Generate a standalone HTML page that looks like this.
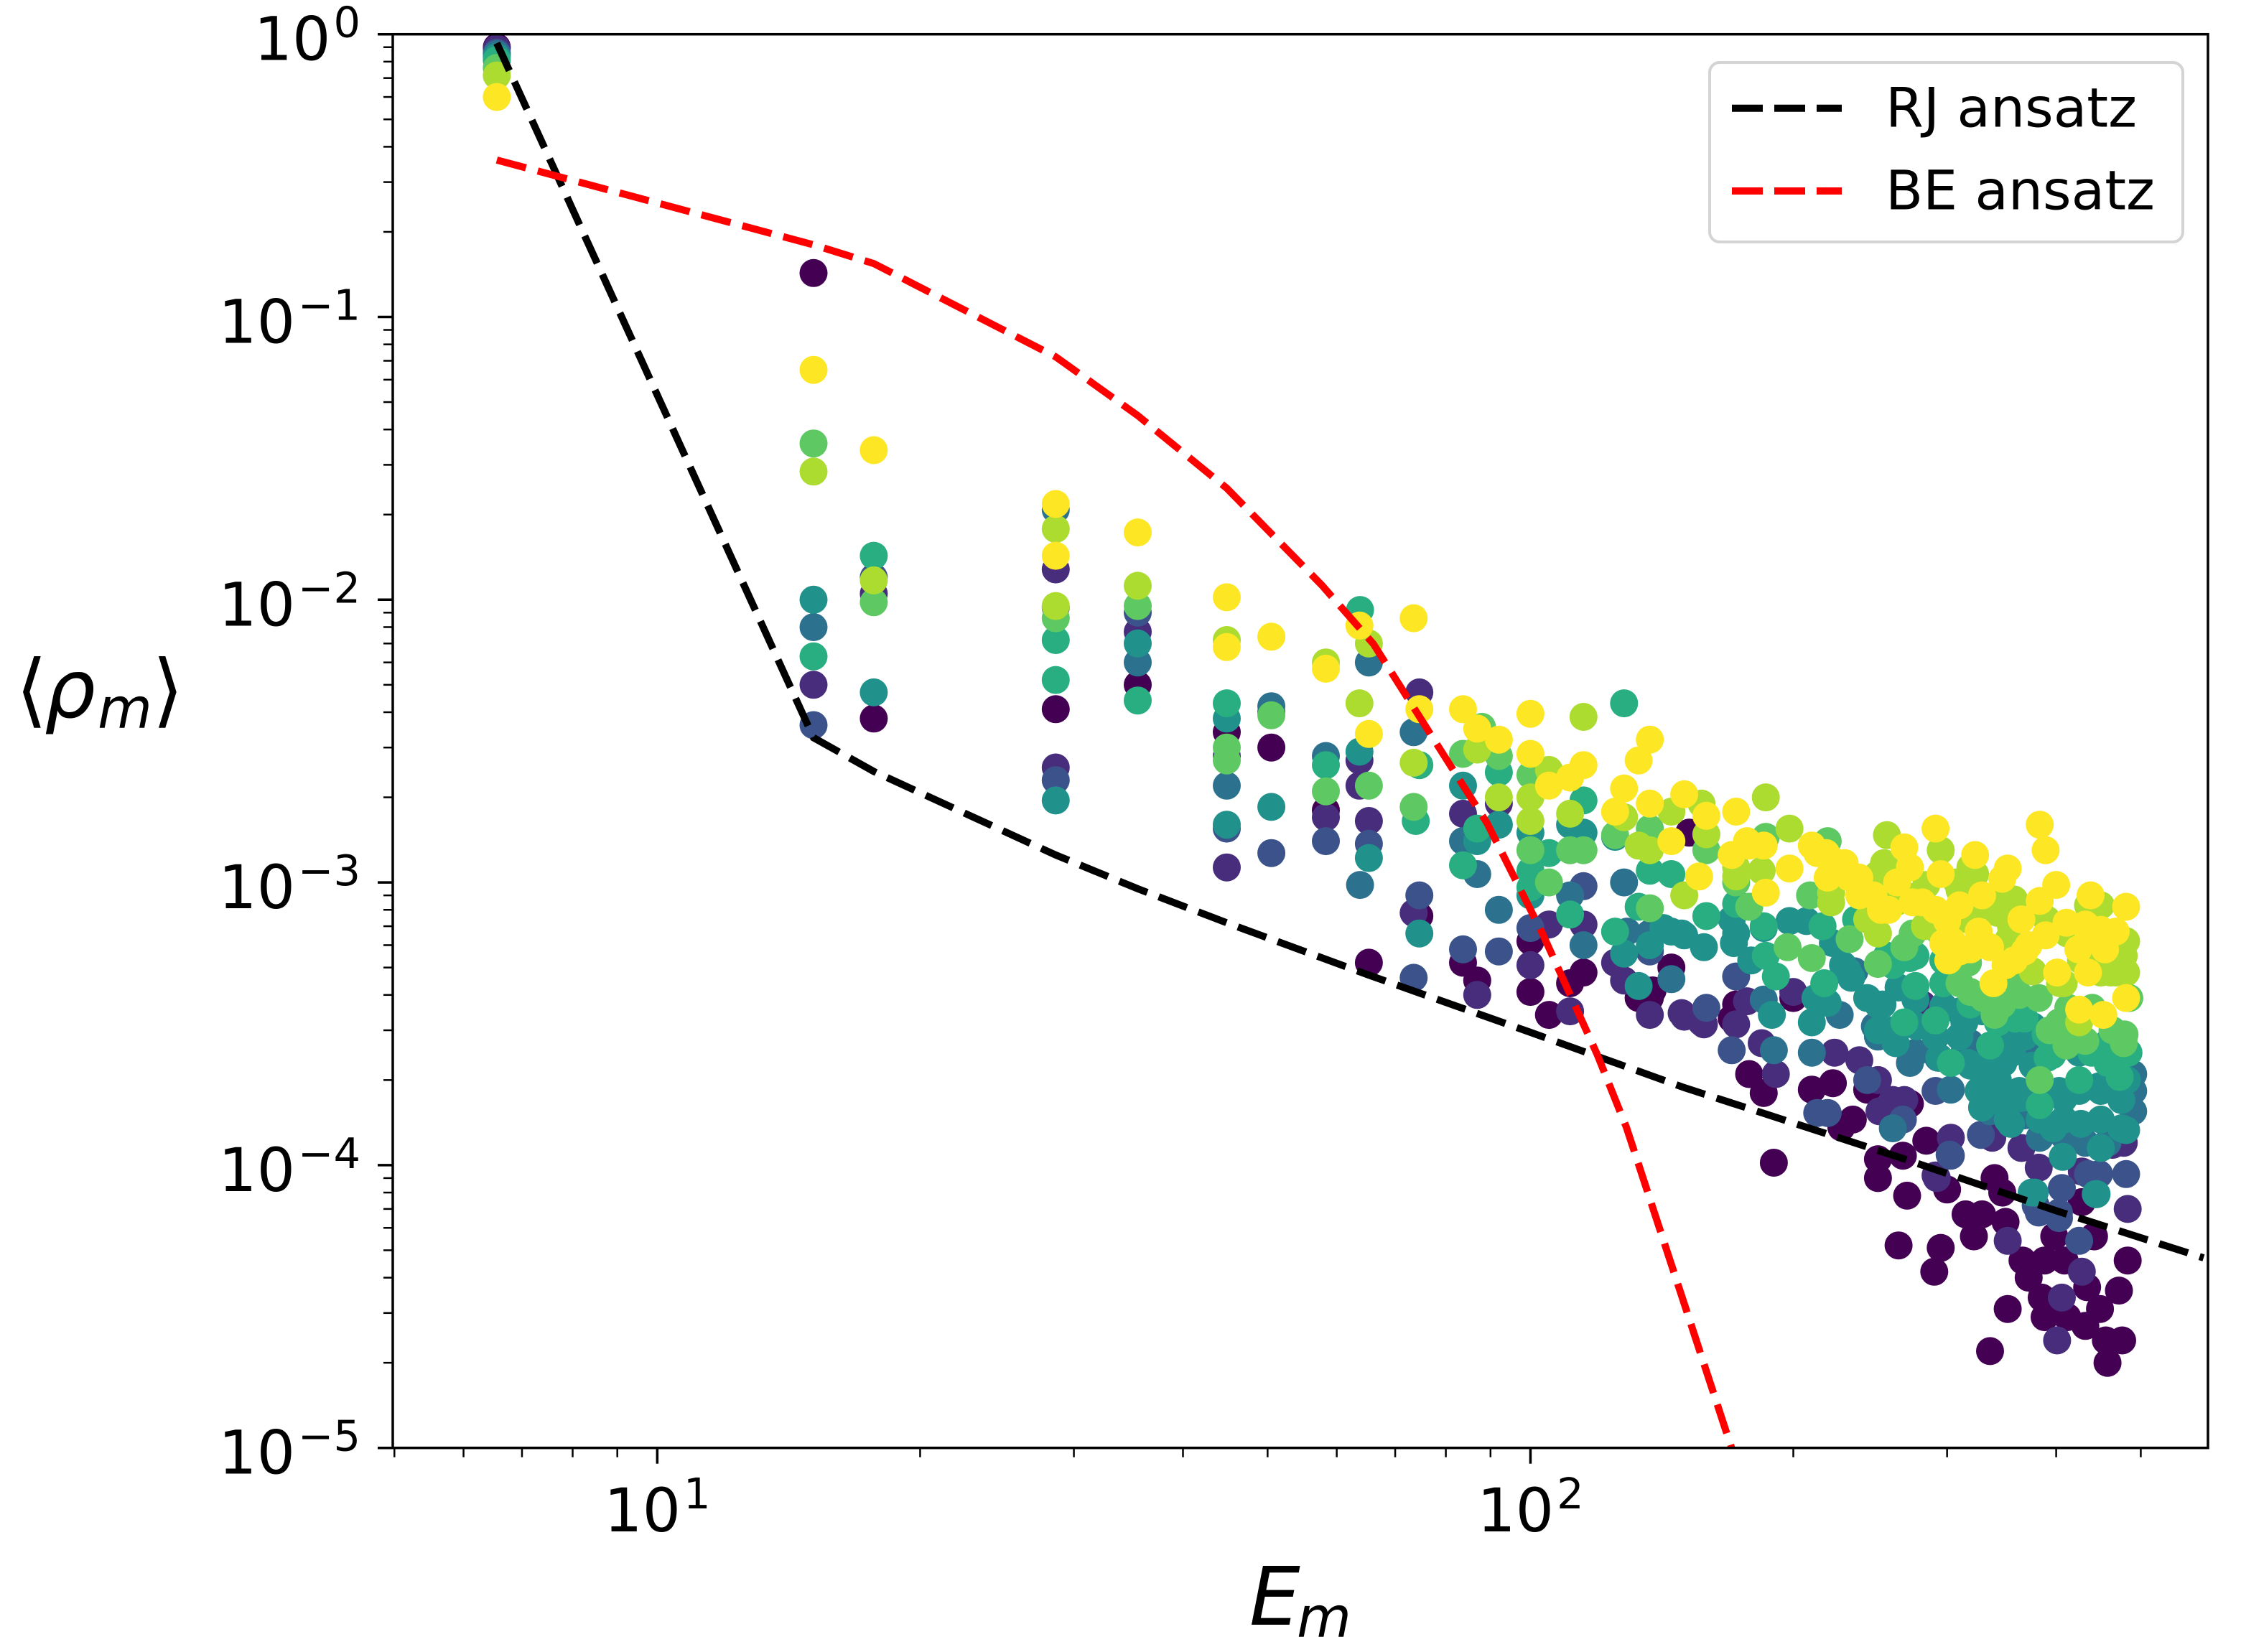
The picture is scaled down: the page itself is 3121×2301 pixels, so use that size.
<!DOCTYPE html>
<html lang="en">
<head>
<meta charset="utf-8">
<title>Mode occupation scatter chart</title>
<style>
html,body{margin:0;padding:0;background:#fff;}
svg{display:block;}
text{font-family:"DejaVu Sans","Liberation Sans",sans-serif;fill:#000;}
</style>
</head>
<body>
<svg id="chart" xmlns="http://www.w3.org/2000/svg" width="3121" height="2301" viewBox="0 0 3121 2301">
<defs><clipPath id="plot-clip"><rect x="547" y="47.7" width="2528" height="1969"/></clipPath></defs>
<rect x="0" y="0" width="3121" height="2301" fill="#fff"/>
<g id="points" clip-path="url(#plot-clip)"></g>
<g id="lines" clip-path="url(#plot-clip)"></g>
<g id="ticks"></g>
<rect x="547" y="47.7" width="2528" height="1969" fill="none" stroke="#000" stroke-width="3.5"/>
<g id="tick-labels"></g>
<text font-size="112"><tspan x="22" y="999">⟨</tspan><tspan x="62" y="999" font-style="italic">ρ</tspan><tspan x="136" y="1014" font-size="78" font-style="italic">m</tspan><tspan x="212" y="999">⟩</tspan></text>
<text font-size="112"><tspan x="1740" y="2263" font-style="italic">E</tspan><tspan x="1806" y="2280" font-size="78" font-style="italic">m</tspan></text>
<g>
<rect x="2381" y="87" width="659" height="250" rx="14" fill="#fff" fill-opacity="0.9" stroke="#d4d4d4" stroke-width="4"/>
<line x1="2412" y1="150.7" x2="2565" y2="150.7" stroke="#000" stroke-width="10" stroke-dasharray="43 16"/>
<text x="2626" y="176.7" font-size="76">RJ ansatz</text>
<line x1="2412" y1="266" x2="2565" y2="266" stroke="#f00" stroke-width="10" stroke-dasharray="43 16"/>
<text x="2626" y="291.7" font-size="76">BE ansatz</text>
</g>
</svg>
<script>
// Each entry is [E_m, rho_m].
const level0=[[6.55,.9],[15.1,.143],[17.7,3.8e-3],[28.6,4.1e-3],[35.5,5e-3],[44.9,3.4e-3],[50.5,3e-3],[58.3,1.8e-3],[65.3,5.2e-4],[74.6,7.6e-4],[83.7,5.2e-4],[86.9,4.5e-4],[100,6.2e-4],[100,4.1e-4],[105,3.4e-4],[111,4.4e-4],[115,4.8e-4],[133,3.9e-4],[137,3.9e-4],[138,4.15e-4],[145,5e-4],[152,1.5e-3],[172,3.7e-4],[170,3.3e-4],[200,3.9e-4],[178,2.1e-4],[185,1.8e-4],[190,1.02e-4],[210,1.85e-4],[222,1.95e-4],[234,1.45e-4],[243,1.85e-4],[227,1.36e-4],[272,1.65e-4],[250,1.05e-4],[250,9e-5],[270,7.8e-5],[267,1.08e-4],[284,1.22e-4],[300,8.2e-5],[315,6.7e-5],[329,6.7e-5],[322,5.6e-5],[350,6.3e-5],[340,9e-5],[347,8e-5],[264,5.2e-5],[295,5.1e-5],[290,4.2e-5],[336,2.2e-5],[352,3.1e-5],[366,4.6e-5],[388,4.6e-5],[409,4.6e-5],[398,5.6e-5],[442,5.6e-5],[372,4e-5],[385,3.4e-5],[388,2.9e-5],[412,2.9e-5],[434,3.7e-5],[449,3.1e-5],[432,2.7e-5],[472,3.6e-5],[483,4.6e-5],[456,2.4e-5],[476,2.4e-5],[458,2e-5],[428,7.4e-5]];
const level1=[[6.55,.89],[15.1,5e-3],[17.7,1.05e-2],[28.6,.0128],[28.6,9.4e-3],[28.6,2.55e-3],[35.5,7.7e-3],[44.9,2.8e-3],[44.9,1.13e-3],[50.5,4e-3],[58.3,1.7e-3],[63.7,2.7e-3],[63.7,2.2e-3],[65.3,1.65e-3],[73.5,7.8e-4],[74.6,4.7e-3],[83.7,1.75e-3],[86.9,4e-4],[92,1.9e-3],[100,5.1e-4],[105,7.1e-4],[111,3.5e-4],[115,7.1e-4],[125,5.2e-4],[128,4.5e-4],[137,3.4e-4],[149,3.45e-4],[150,3.35e-4],[157,3.2e-4],[158,3.15e-4],[172,3.15e-4],[177,3.8e-4],[184,2.7e-4],[191,2.1e-4],[223,2.5e-4],[238,2.35e-4],[250,2e-4],[251,1.55e-4],[260,1.7e-4],[268,1.7e-4],[292,9e-5],[303,1.25e-4],[291,9.2e-5],[338,1.25e-4],[365,1.15e-4],[382,9.8e-5],[428,9.5e-5],[464,1.18e-4],[478,1.2e-4],[483,7e-5],[352,5.4e-5],[406,3.4e-5],[428,4.2e-5],[401,2.4e-5],[200,4.1e-4],[281,3.7e-4]];
const level2=[[6.55,.86],[15.1,3.6e-3],[17.7,1.2e-2],[28.6,2.3e-3],[35.5,9e-3],[44.9,1.55e-3],[50.5,1.27e-3],[58.3,1.4e-3],[65.3,1.37e-3],[74.6,9e-4],[73.5,4.6e-4],[83.7,5.8e-4],[92,5.7e-4],[100,6.9e-4],[115,9.7e-4],[137,5.7e-4],[159,3.6e-4],[172,4.65e-4],[170,2.55e-4],[243,2e-4],[291,1.83e-4],[213,1.53e-4],[219,1.53e-4],[267,1.45e-4],[303,1.08e-4],[328,1.28e-4],[406,8.3e-5],[435,9.3e-5],[448,9.3e-5],[481,9.3e-5],[382,6.8e-5],[403,6.8e-5],[425,5.4e-5],[403,6.5e-5],[379,7.2e-5],[302,1.09e-4]];
const level3=[[6.55,.85],[15.1,8e-3],[28.6,.0208],[35.5,6e-3],[44.9,2.2e-3],[50.5,4.2e-3],[58.3,2.8e-3],[63.8,9.8e-4],[65.3,6e-3],[73.5,3.4e-3],[83.7,1.4e-3],[86.9,1.07e-3],[92,8e-4],[111,9e-4],[115,6e-4],[128,1e-3],[129,6.7e-4],[137,6.6e-4],[145,4.55e-4],[185,3.85e-4],[190,2.55e-4],[210,2.5e-4],[226,3.4e-4],[248,3.1e-4],[272,2.3e-4],[303,1.85e-4],[260,1.35e-4],[336,1.55e-4],[383,1.25e-4],[432,1.2e-4],[235,4.85e-4],[319,2.7e-4],[380,2.5e-4],[490,1.55e-4],[490,2.1e-4],[250,2.85e-4],[276,2.5e-4],[293,2.4e-4],[314,2.5e-4],[333,2.05e-4],[368,1.5e-4],[408,1.27e-4],[458,1.2e-4],[490,1.83e-4]];
const level4=[[6.55,.83],[15.1,1e-2],[17.7,4.7e-3],[28.6,1.95e-3],[35.5,7e-3],[44.9,3.8e-3],[44.9,1.6e-3],[50.5,1.85e-3],[63.7,2.9e-3],[65.3,1.22e-3],[74.6,6.6e-4],[83.7,2.2e-3],[86.9,1.4e-3],[92,1.6e-3],[100,9e-4],[100,1.5e-3],[111,1.6e-3],[115,1.5e-3],[125,1.45e-3],[128,5.6e-4],[133,4.3e-4],[137,6e-4],[142,6.9e-4],[145,6.7e-4],[149,6.6e-4],[150,6.5e-4],[158,5.9e-4],[170,7.4e-4],[171,6.1e-4],[172,6.6e-4],[179,5.3e-4],[185,6.9e-4],[198,7.3e-4],[207,7.3e-4],[189,3.4e-4],[210,3.2e-4],[212,3.9e-4],[219,3.75e-4],[222,6.1e-4],[228,5.1e-4],[233,4.6e-4],[231,4.85e-4],[243,3.9e-4],[326,1.83e-4],[355,1.4e-4],[427,1.4e-4],[481,1.33e-4],[407,1.07e-4],[450,1.15e-4],[444,7.9e-5],[378,8e-5],[365,1.73e-4],[475,1.7e-4],[343,2e-4],[297,3.65e-4],[314,3.2e-4],[368,2.85e-4],[375,8e-5],[445,7.9e-5],[408,1.72e-4],[448,1.9e-4],[482,2e-4],[397,1.35e-4],[348,2.3e-4],[294,2.4e-4],[277,3.1e-4],[253,3.7e-4],[262,2.7e-4],[317,2.3e-4],[329,3.5e-4],[250,3.7e-4],[264,4.25e-4],[276,3.85e-4],[250,3e-4],[260,3e-4],[291,2.85e-4],[310,3.5e-4],[310,2.85e-4],[319,2.25e-4],[333,2.25e-4],[350,3e-4],[356,2.5e-4],[376,3.1e-4],[376,2.25e-4],[329,1.6e-4],[343,1.7e-4],[363,1.83e-4],[383,1.45e-4],[403,1.83e-4],[425,1.83e-4],[450,1.83e-4],[408,1.45e-4],[450,1.45e-4],[475,2.05e-4],[425,2.5e-4],[458,2.5e-4],[475,1.35e-4],[352,1.45e-4]];
const level5=[[6.55,.81],[15.1,6.3e-3],[17.7,1.43e-2],[28.6,7.2e-3],[28.6,5.2e-3],[35.5,4.4e-3],[44.9,4.3e-3],[58.3,2.6e-3],[63.8,9.2e-3],[73.9,1.65e-3],[74.6,2.6e-3],[86.9,1.55e-3],[83.7,1.15e-3],[92,2.45e-3],[100,1.1e-3],[100,9.6e-4],[105,1.27e-3],[111,7.7e-4],[115,1.95e-3],[125,6.7e-4],[128,4.3e-3],[133,8.2e-4],[137,1.1e-3],[145,1.07e-3],[159,7.6e-4],[172,8.4e-4],[178,8.2e-4],[185,7e-4],[186,5.5e-4],[191,4.65e-4],[268,3.2e-4],[291,3.25e-4],[336,2.65e-4],[303,2.3e-4],[425,2e-4],[473,2.05e-4],[383,1.63e-4],[260,5.1e-4],[276,4.3e-4],[359,3.3e-4],[458,2.3e-4],[396,2.45e-4],[217,4.4e-4],[216,7e-4],[236,7.4e-4],[276,5.5e-4],[391,2.4e-4],[439,2.5e-4],[272,5.4e-4],[256,5.5e-4],[297,5.3e-4],[297,4.4e-4],[319,3.7e-4],[343,3.2e-4],[368,3.3e-4],[389,2.9e-4],[458,2.7e-4],[484,2.5e-4]];
const level6=[[6.55,.76],[15.1,.0357],[17.7,9.8e-3],[28.6,8.6e-3],[35.5,9.5e-3],[44.9,3e-3],[44.9,2.7e-3],[50.5,3.9e-3],[58.3,2.1e-3],[65.3,2.2e-3],[73.5,1.85e-3],[83.7,2.85e-3],[88,3.55e-3],[92,2.8e-3],[100,2.4e-3],[100,1.3e-3],[105,1e-3],[111,1.3e-3],[115,1.3e-3],[125,1.47e-3],[137,1.55e-3],[137,8.1e-4],[159,1.3e-3],[172,1e-3],[178,8.2e-4],[186,1.45e-3],[219,1.4e-3],[209,9e-4],[268,5.9e-4],[274,6.6e-4],[250,5.15e-4],[232,6.3e-4],[197,5.9e-4],[210,5.4e-4],[310,4.4e-4],[330,3.9e-4],[340,3.4e-4],[363,4e-4],[382,3.9e-4],[403,3.2e-4],[411,2.65e-4],[432,2.75e-4],[479,2.9e-4],[383,2e-4],[393,3e-4],[347,3.7e-4],[319,4.1e-4],[464,3e-4],[478,2.7e-4],[485,3.9e-4],[440,3.6e-4],[413,3.6e-4],[355,4.6e-4],[317,5.2e-4],[295,6.6e-4]];
const level7=[[6.55,.715],[15.1,.0284],[17.7,1.17e-2],[28.6,.0178],[28.6,9.5e-3],[35.5,1.12e-2],[44.9,7.2e-3],[58.3,6e-3],[65.3,7e-3],[63.7,4.3e-3],[73.5,2.65e-3],[86.9,2.95e-3],[92,2e-3],[100,2e-3],[100,1.65e-3],[105,2.5e-3],[111,1.75e-3],[115,3.85e-3],[128,1.7e-3],[133,1.35e-3],[137,1.3e-3],[145,1.78e-3],[150,9e-4],[157,1.9e-3],[159,1.48e-3],[172,1.13e-3],[172,1.05e-3],[186,2e-3],[198,1.55e-3],[184,1.1e-3],[221,8.5e-4],[221,9.2e-4],[254,1.17e-3],[256,1.47e-3],[295,1.3e-3],[319,1.13e-3],[323,1.07e-3],[308,1e-3],[250,1.07e-3],[284,9.8e-4],[250,6.6e-4],[343,8.7e-4],[358,7.6e-4],[358,8.7e-4],[435,8.3e-4],[450,8.3e-4],[481,6.2e-4],[343,7.8e-4],[353,6.3e-4],[481,4.8e-4],[462,4.8e-4],[468,4.8e-4],[450,4.8e-4],[425,3.2e-4],[427,5.3e-4],[404,4.4e-4],[408,4.4e-4],[376,4.85e-4],[329,8.3e-4],[412,6.6e-4],[432,5.2e-4],[272,8.9e-4],[310,9.4e-4],[355,7e-4],[390,7.4e-4],[428,5.5e-4],[478,5.5e-4],[317,7.4e-4],[283,7e-4],[262,8.5e-4],[243,7.4e-4]];
const level8=[[6.55,.6],[15.1,.065],[17.7,.0338],[28.6,.0218],[28.6,.0143],[35.5,.0173],[44.9,1.02e-2],[44.9,6.8e-3],[50.5,7.4e-3],[58.3,5.7e-3],[63.7,8.1e-3],[65.3,3.35e-3],[73.5,8.6e-3],[74.6,4.1e-3],[83.7,4.1e-3],[86.9,3.5e-3],[92,3.2e-3],[100,3.95e-3],[100,2.85e-3],[105,2.2e-3],[111,2.35e-3],[115,2.6e-3],[125,1.78e-3],[133,2.7e-3],[137,3.2e-3],[128,2.15e-3],[137,1.9e-3],[145,1.4e-3],[150,2.05e-3],[156,1.05e-3],[159,1.72e-3],[172,1.78e-3],[170,1.25e-3],[177,1.4e-3],[178,1.35e-3],[185,1.35e-3],[186,9.2e-4],[210,1.35e-3],[213,1.27e-3],[218,1.27e-3],[226,1.17e-3],[229,1.17e-3],[198,1.12e-3],[219,1.04e-3],[232,1.04e-3],[238,1.04e-3],[238,9e-4],[291,1.55e-3],[268,1.33e-3],[323,1.25e-3],[383,1.6e-3],[389,1.3e-3],[352,1.12e-3],[295,1.07e-3],[272,1.13e-3],[263,1e-3],[347,1.03e-3],[400,9.8e-4],[329,9e-4],[310,8.3e-4],[247,9e-4],[252,8e-4],[257,8e-4],[274,8.5e-4],[281,8.5e-4],[291,8e-4],[300,7.3e-4],[383,8.6e-4],[438,9e-4],[481,8.2e-4],[365,7.4e-4],[411,7.2e-4],[432,7.1e-4],[435,6.7e-4],[450,6.8e-4],[468,6.7e-4],[389,6.5e-4],[326,6.7e-4],[336,5.9e-4],[304,6.2e-4],[297,6.1e-4],[301,5.3e-4],[310,5.7e-4],[319,5.8e-4],[358,5.3e-4],[368,5.7e-4],[372,6e-4],[424,5.8e-4],[455,5.8e-4],[350,5.1e-4],[339,4.4e-4],[401,4.8e-4],[435,4.8e-4],[481,3.9e-4],[425,3.55e-4],[453,3.4e-4]];
const rjEnergy=[6.55,15.1,17.7,28.6,35.5,44.9,65.3,100,150,266,400,590];
const rjRho=[.93,3.25e-3,2.47e-3,1.25e-3,9.5e-4,7.2e-4,4.7e-4,2.95e-4,1.88e-4,1.06e-4,6.9e-5,4.7e-5];
const beEnergy=[6.55,15.1,17.7,28.6,35.5,44.9,57.7,66.1,79.4,89.2,103.2,119.2,128.8,168.2,179.7];
const beRho=[.359,.18,.1545,.0723,.0448,.0248,.01125,6.97e-3,2.85e-3,1.62e-3,6.6e-4,2.47e-4,1.36e-4,1.1e-5,5.96e-6];
const xDecades=[1,2];
const yDecades=[0,-1,-2,-3,-4,-5];
const minorMultipliers=[2,3,4,5,6,7,8,9];

const NS='http://www.w3.org/2000/svg';
const plotLeft=547,plotRight=3075,plotTop=47.7,plotBottom=2016.7;
const xLogMin=0.6971,xLogMax=2.7759,yLogMin=-5,yLogMax=0;
function xScale(v){return plotLeft+(Math.log10(v)-xLogMin)/(xLogMax-xLogMin)*(plotRight-plotLeft);}
function yScale(v){return plotBottom-(Math.log10(v)-yLogMin)/(yLogMax-yLogMin)*(plotBottom-plotTop);}
function make(tag,attrs){const el=document.createElementNS(NS,tag);for(const k in attrs)el.setAttribute(k,attrs[k]);return el;}

const levelSeries=[level0,level1,level2,level3,level4,level5,level6,level7,level8];
const levelColors=['#440154','#472d7b','#3b528b','#2c728e','#21918c','#28ae80','#5ec962','#addc30','#fde725'];
const pointsGroup=document.getElementById('points');
levelSeries.forEach(function(series,i){
  const g=make('g',{fill:levelColors[i]});
  
  
  series.forEach(function(p){
    const c=make('circle',{cx:xScale(p[0]).toFixed(1),cy:yScale(p[1]).toFixed(1),r:19.5});
    
    
    g.appendChild(c);
  });
  pointsGroup.appendChild(g);
});

function linePath(xs,ys){return xs.map(function(x,i){return (i?'L':'M')+xScale(x).toFixed(1)+' '+yScale(ys[i]).toFixed(1);}).join('');}
const linesGroup=document.getElementById('lines');
const rjLine=make('path',{d:linePath(rjEnergy,rjRho),fill:'none',stroke:'#000','stroke-width':10,'stroke-dasharray':'42 17'});


linesGroup.appendChild(rjLine);
const beLine=make('path',{d:linePath(beEnergy,beRho),fill:'none',stroke:'#f00','stroke-width':10,'stroke-dasharray':'42 17'});


linesGroup.appendChild(beLine);

const ticksGroup=document.getElementById('ticks');
function addTick(x1,y1,x2,y2,name,w){
  const t=make('line',{x1:x1,y1:y1,x2:x2,y2:y2,stroke:'#000','stroke-width':w});
  
  
  ticksGroup.appendChild(t);
}
yDecades.forEach(function(d){
  const y=yScale(Math.pow(10,d));
  addTick(plotLeft-21,y,plotLeft,y,'y-major-tick',3.5);
  if(d>yLogMin)minorMultipliers.forEach(function(m){
    const my=yScale(m*Math.pow(10,d-1));
    addTick(plotLeft-13,my,plotLeft,my,'y-minor-tick',2.5);
  });
});
xDecades.forEach(function(d){
  const x=xScale(Math.pow(10,d));
  addTick(x,plotBottom,x,plotBottom+22,'x-major-tick',3.5);
});
[0,1,2].forEach(function(d){
  minorMultipliers.forEach(function(m){
    const v=m*Math.pow(10,d);
    if(Math.log10(v)<xLogMin-0.002||Math.log10(v)>xLogMax)return;
    addTick(xScale(v),plotBottom,xScale(v),plotBottom+13,'x-minor-tick',2.5);
  });
});

const labelsGroup=document.getElementById('tick-labels');
function addPowerLabel(x,y,anchor,exp,name){
  const t=make('text',{x:x,y:y,'text-anchor':anchor,'font-size':84});
  
  
  t.appendChild(document.createTextNode('10'));
  const s=make('tspan',{dy:-32,dx:4,'font-size':59});
  s.textContent=String(exp).replace('-','\u2212');
  t.appendChild(s);
  labelsGroup.appendChild(t);
}
yDecades.forEach(function(d){addPowerLabel(502,yScale(Math.pow(10,d))+36,'end',d,'y-tick-label');});
xDecades.forEach(function(d){addPowerLabel(xScale(Math.pow(10,d)),2133,'middle',d,'x-tick-label');});
</script>
</body>
</html>
